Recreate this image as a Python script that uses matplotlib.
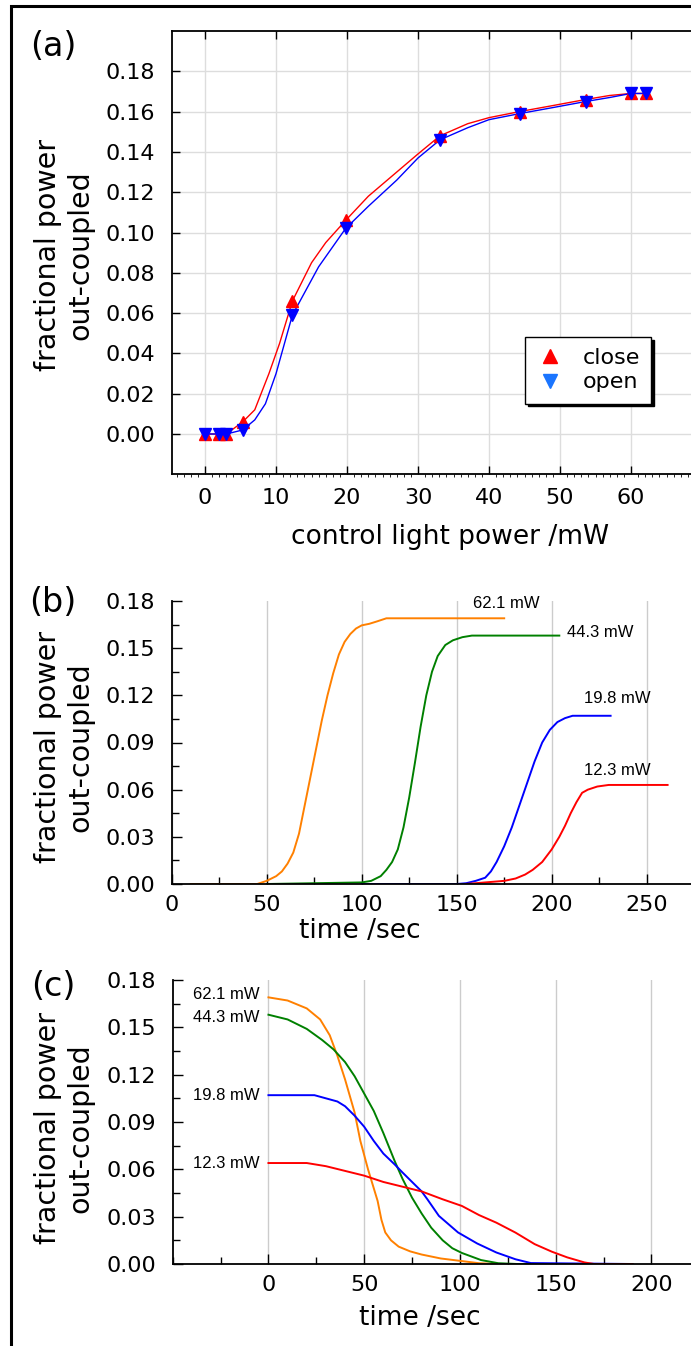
import matplotlib
matplotlib.use("Agg")
import matplotlib.pyplot as plt
from matplotlib.lines import Line2D
from matplotlib.patches import Rectangle
from matplotlib.ticker import MultipleLocator, FixedLocator

plt.rcParams['font.family'] = ['DejaVu Sans']

W, H = 691, 1346

# ---- (a) fractional power vs control light power
power = [0, 2, 3, 5.3, 12.3, 19.8, 33.1, 44.3, 53.6, 60, 62.1]
close_pts = [0, 0, 0, 0.006, 0.066, 0.106, 0.148, 0.160, 0.166, 0.169, 0.169]
open_pts = [0, 0, 0, 0.002, 0.059, 0.102, 0.146, 0.159, 0.165, 0.169, 0.169]

close_line_x = [0, 2, 3, 5.3, 7, 9, 10.5, 12.3, 15, 17, 19.8, 23, 27, 30, 33.1,
                37, 40, 44.3, 49, 53.6, 57, 60, 62.1]
close_line_y = [0, 0, 0, 0.006, 0.012, 0.03, 0.045, 0.066, 0.085, 0.095, 0.106,
                0.118, 0.13, 0.139, 0.148, 0.154, 0.157, 0.160, 0.163, 0.166,
                0.168, 0.169, 0.169]
open_line_x = [0, 2, 3, 5.3, 7, 8.5, 10, 12.3, 16, 19.8, 23, 27, 30, 33.1, 37,
               40, 44.3, 49, 53.6, 57, 60, 62.1]
open_line_y = [0, 0, 0, 0.002, 0.007, 0.015, 0.03, 0.059, 0.083, 0.102, 0.113,
               0.126, 0.137, 0.146, 0.152, 0.156, 0.159, 0.162, 0.165, 0.167,
               0.169, 0.169]

# ---- (b) rise curves (time /sec, fraction)
b_labels = ['62.1 mW', '44.3 mW', '19.8 mW', '12.3 mW']
b_t = [
    [10, 45, 50, 55, 58, 61, 64, 67, 70, 73, 76, 79, 82, 85, 88, 91, 94, 97,
     100, 104, 108, 113, 175],
    [50, 100, 105, 110, 113, 116, 119, 122, 125, 128, 131, 134, 137, 140, 144,
     148, 153, 158, 204],
    [100, 150, 155, 160, 165, 168, 171, 175, 179, 183, 187, 191, 195, 199, 203,
     207, 211, 231],
    [155, 165, 175, 181, 186, 190, 195, 200, 204, 207, 210, 213, 216, 219, 224,
     230, 261],
]
b_v = [
    [0, 0, 0.002, 0.005, 0.008, 0.013, 0.02, 0.032, 0.05, 0.068, 0.086, 0.104,
     0.12, 0.134, 0.146, 0.154, 0.159, 0.1625, 0.1645, 0.1655, 0.167, 0.169,
     0.169],
    [0, 0.001, 0.002, 0.005, 0.009, 0.014, 0.022, 0.036, 0.055, 0.077, 0.1,
     0.12, 0.135, 0.145, 0.152, 0.155, 0.157, 0.158, 0.158],
    [0, 0, 0.0005, 0.002, 0.004, 0.008, 0.014, 0.024, 0.036, 0.05, 0.064,
     0.078, 0.09, 0.098, 0.103, 0.1055, 0.107, 0.107],
    [0, 0.001, 0.002, 0.0035, 0.006, 0.009, 0.014, 0.022, 0.03, 0.037, 0.045,
     0.052, 0.058, 0.06, 0.062, 0.063, 0.063],
]

# ---- (c) decay curves
c_t = [
    [0, 10, 20, 27, 32, 36, 40, 45, 48, 52, 55, 57, 59, 61, 64, 68, 74, 80, 90,
     100, 110, 120, 190],
    [0, 10, 20, 28, 34, 40, 45, 50, 55, 60, 66, 70, 75, 80, 85, 91, 96, 101, 111,
     120, 130, 190],
    [0, 20, 24, 30, 36, 40, 45, 50, 55, 60, 66, 70, 75, 80, 83, 89, 99, 109, 119,
     129, 137, 190],
    [0, 20, 25, 30, 40, 50, 60, 70, 80, 91, 101, 110, 119, 129, 139, 148, 156,
     165, 170, 190],
]
c_v = [
    [0.169, 0.167, 0.162, 0.155, 0.145, 0.132, 0.117, 0.096, 0.078, 0.06, 0.048,
     0.04, 0.028, 0.02, 0.015, 0.011, 0.008, 0.006, 0.0035, 0.002, 0.0005, 0, 0],
    [0.158, 0.155, 0.149, 0.142, 0.136, 0.128, 0.119, 0.108, 0.097, 0.083, 0.065,
     0.054, 0.042, 0.032, 0.023, 0.015, 0.01, 0.007, 0.0025, 0.0005, 0, 0],
    [0.107, 0.107, 0.107, 0.105, 0.103, 0.1, 0.094, 0.087, 0.078, 0.07, 0.063,
     0.058, 0.052, 0.046, 0.041, 0.0305, 0.02, 0.013, 0.0073, 0.003, 0.0006, 0],
    [0.064, 0.064, 0.063, 0.062, 0.059, 0.056, 0.052, 0.049, 0.046, 0.041, 0.0368,
     0.031, 0.0262, 0.0199, 0.0126, 0.0078, 0.0042, 0.001, 0, 0],
]
colors = ['#ff8000', '#008000', '#0000ff', '#ff0000']


def fpos(left, top, right, bottom):
    return [left / W, 1 - bottom / H, (right - left) / W, (bottom - top) / H]


fig = plt.figure(figsize=(W / 100, H / 100), dpi=100)

fig.patches.append(Rectangle((10.5 / W, -0.05), 1.2, 1.05 - 6.5 / H,
                             transform=fig.transFigure, fill=False,
                             edgecolor='black', linewidth=2.2))

tick_fs = 16
lab_fs = 19
ylab_fs = 20.5
panel_fs = 24
note_kw = dict(fontsize=12, family='Liberation Sans', va='center')
ylab = 'fractional power\nout-coupled'

# ================= (a)
ax = fig.add_axes(fpos(171.7, 31, 702, 474.3))
ax.set_xlim(-4.7, 70)
ax.set_ylim(-0.02, 0.2)
ax.set_xticks(range(0, 70, 10))
ax.xaxis.set_minor_locator(MultipleLocator(1))
ax.set_yticks([0.0, 0.02, 0.04, 0.06, 0.08, 0.10, 0.12, 0.14, 0.16, 0.18])
ax.yaxis.set_major_formatter(lambda v, p: '%.2f' % v)
ax.grid(True, color='#dddddd', linewidth=1)
ax.set_axisbelow(True)
ax.tick_params(which='major', direction='in', length=6, width=1, top=True,
               labelsize=tick_fs, pad=10)
ax.tick_params(axis='y', which='major', pad=12)
ax.tick_params(which='minor', axis='x', direction='out', length=2, width=0.6)
for s in ax.spines.values():
    s.set_linewidth(1.3)
ax.plot(close_line_x, close_line_y, color='#ff0000', lw=1.0)
ax.plot(open_line_x, open_line_y, color='#0000ff', lw=1.0)
ax.plot(power, close_pts, ls='none', marker='^', ms=9, color='#ff0000')
ax.plot(power, open_pts, ls='none', marker='v', ms=9, color='#0000ff')
handles = [Line2D([], [], ls='none', marker='^', ms=10, color='#ff0000'),
           Line2D([], [], ls='none', marker='v', ms=10, color='#1a75ff')]
leg = ax.legend(handles, ['close', 'open'], loc='upper left',
                bbox_to_anchor=(0.666, 0.31), borderaxespad=0, fontsize=16,
                fancybox=False, framealpha=1, edgecolor='black',
                shadow={'color': 'black', 'alpha': 1}, handletextpad=0.8,
                labelspacing=0.2, borderpad=0.5, handlelength=1.3)
leg.get_frame().set_linewidth(1.0)
ax.set_xlabel('control light power /mW', fontsize=lab_fs, va='center')
ax.xaxis.set_label_coords(0.525, (474.3 - 537) / 443.3)
ax.set_ylabel(ylab, fontsize=ylab_fs, va='center', multialignment='center')
ax.yaxis.set_label_coords(-0.203, 0.495)
fig.text(53 / W, 1 - 46 / H, '(a)', fontsize=panel_fs, ha='center', va='center')

# ================= (b)
bx = fig.add_axes(fpos(171.7, 601, 171.7 + 275 * 1.9, 884))
bx.set_xlim(0, 275)
bx.set_ylim(0, 0.18)
for t, v, c in zip(b_t, b_v, colors):
    bx.plot(t, v, color=c, lw=1.4)
bx.text(176, 0.1787, b_labels[0], ha='center', **note_kw)
bx.text(208, 0.1597, b_labels[1], ha='left', **note_kw)
bx.text(217, 0.1177, b_labels[2], ha='left', **note_kw)
bx.text(217, 0.0719, b_labels[3], ha='left', **note_kw)
bx.set_xlabel('time /sec', fontsize=lab_fs, va='center')
bx.xaxis.set_label_coords(0.36, (884 - 931) / 283)
bx.set_ylabel(ylab, fontsize=ylab_fs, va='center', multialignment='center')
bx.yaxis.set_label_coords(-0.206, 0.484)
bx.xaxis.set_major_locator(MultipleLocator(50))
fig.text(53 / W, 1 - 603 / H, '(b)', fontsize=panel_fs, ha='center', va='center')

# ================= (c)
cx = fig.add_axes(fpos(172.7, 980, 172.7 + 272 * 1.915, 1264))
cx.set_xlim(-50, 222)
cx.set_ylim(0, 0.18)
for t, v, c in zip(c_t, c_v, colors):
    cx.plot(t, v, color=c, lw=1.4)
for lab, y in zip(b_labels, [0.1705, 0.1565, 0.1065, 0.064]):
    cx.text(-4.5, y, lab, ha='right', **note_kw)
cx.set_xlabel('time /sec', fontsize=lab_fs, va='center')
cx.xaxis.set_label_coords(0.475, -0.19)
cx.set_ylabel(ylab, fontsize=ylab_fs, va='center', multialignment='center')
cx.yaxis.set_label_coords(-0.209, 0.479)
cx.xaxis.set_major_locator(FixedLocator([0, 50, 100, 150, 200]))
fig.text(53 / W, 1 - 986 / H, '(c)', fontsize=panel_fs, ha='center', va='center')

for a in (bx, cx):
    a.xaxis.set_minor_locator(MultipleLocator(25))
    a.yaxis.set_major_locator(MultipleLocator(0.03))
    a.yaxis.set_minor_locator(MultipleLocator(0.015))
    a.yaxis.set_major_formatter(lambda v, p: '%.2f' % v)
    a.grid(True, axis='x', color='#cccccc', linewidth=1)
    a.set_axisbelow(True)
    a.spines['top'].set_visible(False)
    a.spines['right'].set_visible(False)
    for s in ('left', 'bottom'):
        a.spines[s].set_linewidth(1.3)
    a.tick_params(which='major', direction='in', length=7, width=1,
                  labelsize=tick_fs, pad=8)
    a.tick_params(axis='y', which='major', pad=12)
    a.tick_params(which='minor', direction='in', length=5, width=1)

fig.savefig('out.png', dpi=100)
